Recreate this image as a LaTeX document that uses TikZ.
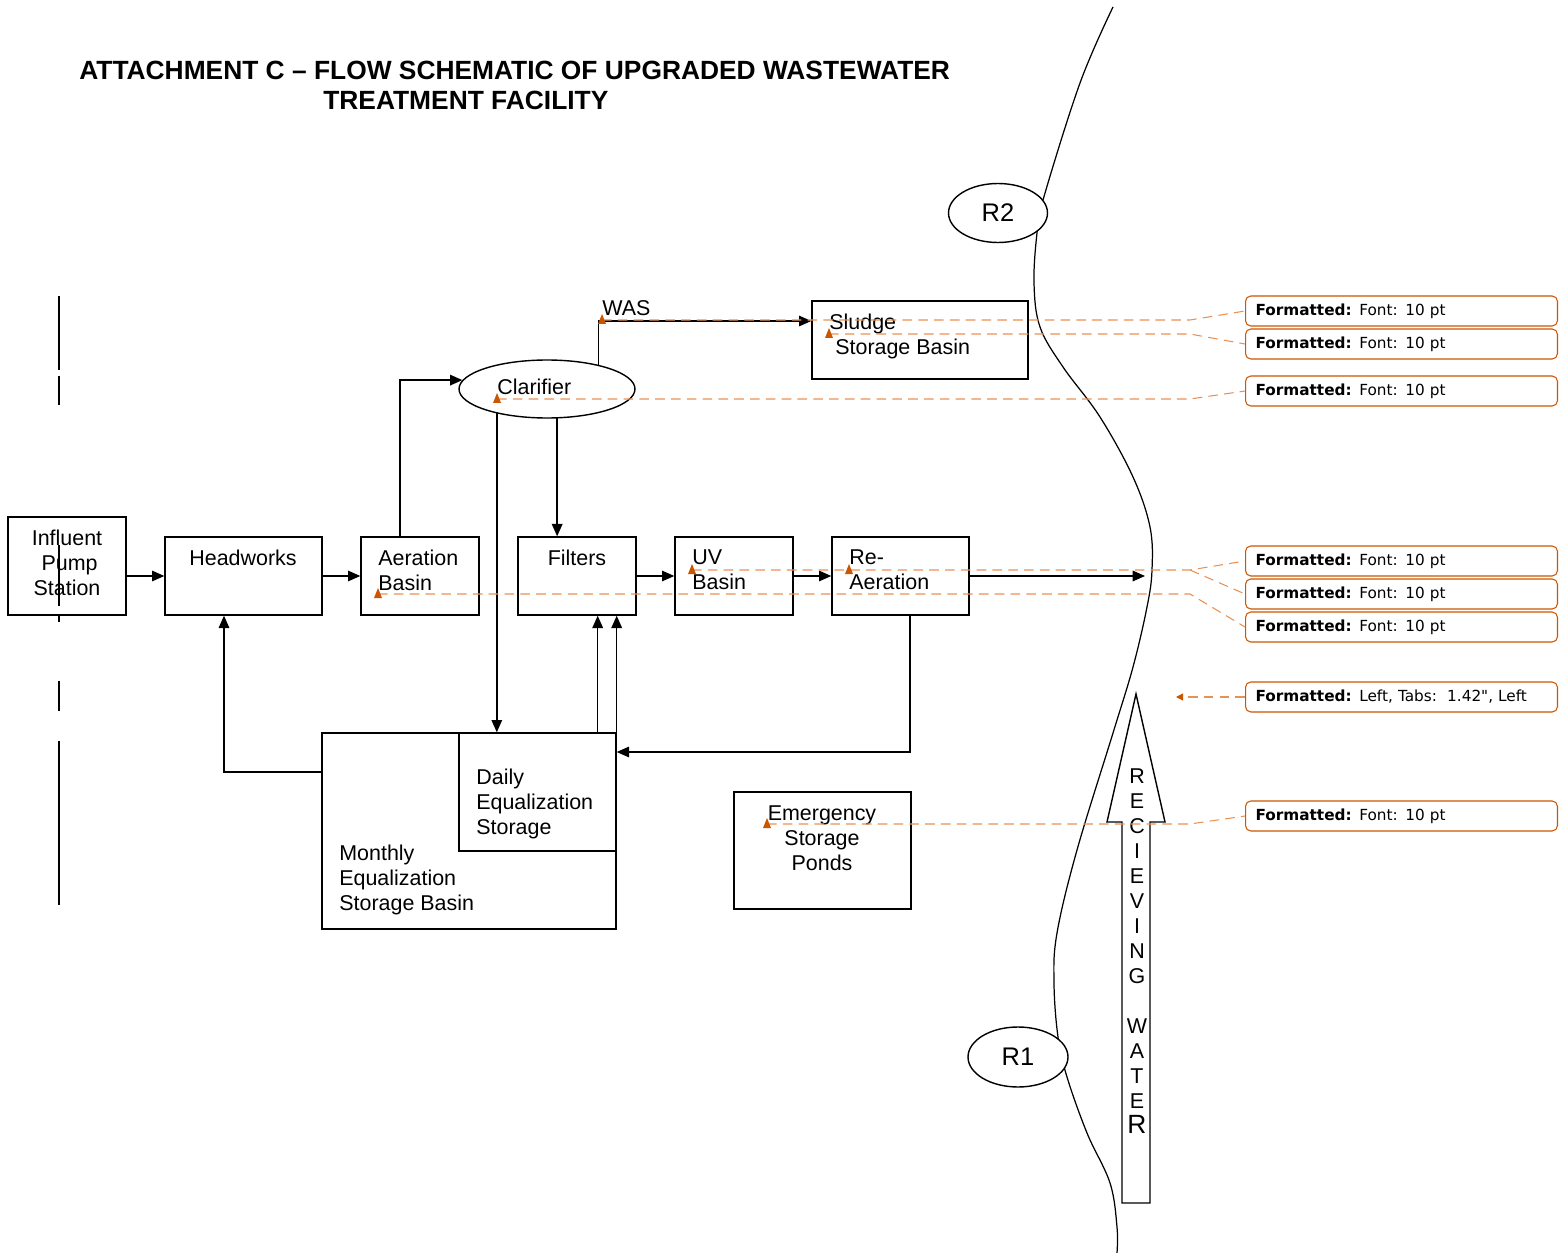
\documentclass[tikz,border=0pt]{standalone}
\usepackage{fontspec}
\setmainfont{Liberation Sans}
\newfontfamily\notefont{DejaVu Sans}
\usetikzlibrary{arrows.meta, positioning, fit, shapes.geometric, calc}
\definecolor{noteline}{RGB}{232,145,85}
\definecolor{notemark}{RGB}{204,85,0}
\tikzset{
    box/.style={rectangle, draw, inner sep=0pt, line width=0.8pt},
    lbl/.style={inner sep=0pt, align=left, anchor=west, font=\fontsize{12.2}{14.2}\selectfont},
    clbl/.style={inner sep=0pt, align=center, font=\fontsize{12.2}{14.2}\selectfont},
    oval/.style={ellipse, draw, fill=white, inner sep=0pt, line width=0.8pt, font=\fontsize{14.5}{16}\selectfont},
    flow/.style={-{Triangle[length=7pt, width=6pt]}, line width=0.8pt},
    note/.style={rectangle, draw=notemark, rounded corners=3pt, line width=0.6pt, anchor=west,
        minimum width=6.24cm, minimum height=0.6cm, text width=5.84cm, inner xsep=0.2cm, inner ysep=0pt,
        align=left, font=\notefont\fontsize{8.7}{10}\selectfont},
    notelink/.style={draw=noteline, line width=0.6pt, dash pattern=on 5.5pt off 3.5pt},
    heading/.style={inner sep=0pt, anchor=base west, font=\bfseries\fontsize{15}{17}\selectfont},
}

\begin{document}
\begin{tikzpicture}[x=0.02cm, y=-0.02cm]
    \useasboundingbox (0,0) rectangle (1559,1253);

    \node[heading] (ttl1) at (79,80) {ATTACHMENT C – FLOW SCHEMATIC OF UPGRADED WASTEWATER};
    \node[heading] (ttl2) at (323,110) {TREATMENT FACILITY};

    % river bank
    \draw[line width=0.7pt] plot[smooth, tension=0.6] coordinates {(1113,7) (1080,83) (1043,200) (1037,233) (1034,283) (1040,327) (1063,367) (1100,417) (1133,477) (1150,527) (1152,570) (1147,607) (1133,667) (1113,733) (1077,850) (1057,933) (1054,983) (1058,1037) (1067,1077) (1087,1133) (1110,1183) (1117,1227) (1117,1253)};

    \node[box, fit={(8,517) (126,615)}] (ips) {};
    \node[box, fit={(165,537) (322,615)}] (hw) {};
    \node[box, fit={(361,537) (479,615)}] (aer) {};
    \node[box, fit={(518,537) (636,615)}] (fil) {};
    \node[box, fit={(675,537) (793,615)}] (uv) {};
    \node[box, fit={(832,537) (969,615)}] (rea) {};
    \node[box, fit={(812,301) (1028,379)}] (slud) {};
    \node[box, fit={(322,733) (616,929)}] (mon) {};
    \node[box, fit={(459,733) (616,851)}] (day) {};
    \node[box, fit={(734,792) (911,909)}] (emer) {};
    \node[oval, minimum width=3.52cm, minimum height=1.16cm] (clar) at (547,389) {};
    \node[oval, minimum width=1.98cm, minimum height=1.18cm] (r2) at (998,213) {R2};
    \node[oval, minimum width=2cm, minimum height=1.2cm] (r1) at (1018,1057) {R1};

    \node[clbl] (ipstxt) at (67,563) {Influent\\\hspace*{3pt}Pump\\Station};
    \node[clbl] (hwtxt) at (243,558) {Headworks};
    \node[lbl] (aertxt) at (378,570) {Aeration\\Basin};
    \node[clbl] (filtxt) at (577,558) {Filters};
    \node[lbl] (uvtxt) at (692,570) {UV\\Basin};
    \node[lbl] (reatxt) at (849,570) {Re-\\Aeration};
    \node[lbl] (clartxt) at (497,387) {Clarifier};
    \node[lbl] (wastxt) at (602,308) {WAS};
    \node[lbl] (sludtxt) at (829,336) {Sludge\\\hspace*{3.4pt}Storage Basin};
    \node[clbl] (emertxt) at (822,838) {Emergency\\Storage\\Ponds};
    \node[lbl] (daytxt) at (476,804) {Daily\\Equalization\\Storage};
    \node[lbl] (montxt) at (339,880) {Monthly\\Equalization\\Storage Basin};

    % receiving water
    \draw[line width=0.8pt] (1122,1203) -- (1122,822) -- (1107,822) -- (1136,694) -- (1165,822) -- (1150,822) -- (1150,1203) -- cycle;
    \node[clbl] (rwtxt) at (1137,951) {R\\E\\C\\I\\E\\V\\I\\N\\G\\\mbox{}\\W\\A\\T\\E\\{\fontsize{15}{14.2}\selectfont R}};

    \coordinate (outfall) at (1145,576);
    \coordinate (dayup) at ([xshift=-0.38cm]day.north east);
    \draw[flow] (ips.east |- hw.west) -- (hw.west);
    \draw[flow] (hw.east) -- (aer.west);
    \draw[flow] ([xshift=-0.4cm]aer.north) |- (clar.174);
    \draw[flow] (clar.25) |- ([yshift=0.38cm]slud.west);
    \draw[flow] (clar.289) -- (clar.289 |- fil.north);
    \draw[flow] (clar.206) -- (clar.206 |- day.north);
    \draw[flow] (fil.east) -- (uv.west);
    \draw[flow] (uv.east) -- (rea.west);
    \draw[flow] (rea.east) -- (outfall);
    \draw[flow] ([xshift=0.19cm]rea.south) |- ([yshift=0.8cm]day.east);
    \draw[flow] (dayup) -- (dayup |- fil.south);
    \draw[flow] (day.north east) -- (day.north east |- fil.south);
    \draw[flow] ([yshift=1.18cm]mon.west) -| ([xshift=-0.39cm]hw.south);

    \foreach \a/\b in {296/370, 376/405, 545/606, 615/622, 681/711, 741/905}
        \draw[line width=1.1pt] (59,\a) -- (59,\b);

    \foreach \n/\y in {c1/311, c2/344, c3/391, c4/561, c5/594, c6/627, c8/816}
        \node[note] (\n) at (1245,\y) {\textbf{Formatted:} Font: 10 pt};
    \node[note] (c7) at (1245,697) {\textbf{Formatted:} Left, Tabs:\ \ 1.42", Left};

    \coordinate (mwas) at (602,320);
    \coordinate (mslud) at (829,334);
    \coordinate (mclar) at (497,399);
    \coordinate (muv) at (692,570);
    \coordinate (mrea) at (849,570);
    \coordinate (maer) at (378,594);
    \coordinate (memer) at (767,824);
    \coordinate (bend) at (1190,0);
    \coordinate (tabmark) at (1176,697);

    \draw[notelink] (mwas) -- (mwas -| bend) -- (c1.west);
    \draw[notelink] (mslud) -- (mslud -| bend) -- (c2.west);
    \draw[notelink] (mclar) -- (mclar -| bend) -- (c3.west);
    \draw[notelink] (muv) -- (muv -| bend) -- (c4.west);
    \draw[notelink] (muv -| bend) -- (c5.west);
    \draw[notelink] (maer) -- (maer -| bend) -- (c6.west);
    \draw[notelink] (memer) -- (memer -| bend) -- (c8.west);
    \draw[notelink, -{Triangle[length=4pt, width=4pt, color=notemark]}] (c7.west) -- (tabmark);

    \foreach \m in {mwas, mslud, mclar, muv, mrea, maer, memer}
        \fill[notemark] (\m) ++(-4,4) -- ++(4,-10) -- ++(4,10) -- cycle;
\end{tikzpicture}
\end{document}
